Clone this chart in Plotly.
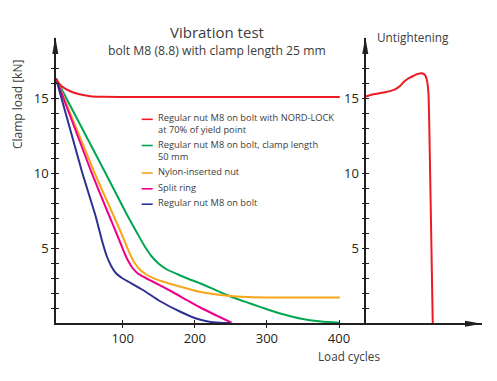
import plotly.graph_objects as go

# ---------------- data (load cycles, clamp load kN) ----------------
red_x = [7.5, 15, 25, 40, 55, 70, 100, 200, 300, 401]
red_y = [16.25, 15.8, 15.5, 15.25, 15.12, 15.08, 15.07, 15.07, 15.07, 15.07]

green_x = [7.5, 75, 105, 120, 130, 140, 150, 162, 176, 189, 207, 230, 253, 277, 300, 325, 346, 375, 400]
green_y = [16.3, 10.1, 7.3, 6.0, 5.15, 4.45, 3.95, 3.55, 3.25, 2.98, 2.65, 2.17, 1.7, 1.3, 0.92, 0.55, 0.3, 0.1, 0.02]

orange_x = [7.5, 61, 85, 97, 104, 110, 116, 123, 132, 143, 160, 193, 207, 230, 253, 280, 320, 401]
orange_y = [16.3, 10.0, 7.4, 6.1, 5.3, 4.6, 4.05, 3.6, 3.25, 2.98, 2.7, 2.25, 2.08, 1.9, 1.78, 1.72, 1.7, 1.7]

pink_x = [7.5, 57, 80, 92, 98, 103, 108, 114, 121, 130, 140, 166, 190, 207, 230, 251]
pink_y = [16.3, 10.0, 7.3, 5.9, 5.2, 4.6, 4.1, 3.65, 3.3, 3.05, 2.8, 2.15, 1.5, 1.05, 0.5, 0.02]

blue_x = [7.5, 44, 62, 68, 73, 78, 84, 91, 99, 108, 128, 152, 180, 203, 222, 240, 249]
blue_y = [16.3, 10.0, 7.2, 6.1, 5.2, 4.45, 3.8, 3.3, 3.0, 2.75, 2.2, 1.45, 0.75, 0.28, 0.07, 0.0, 0.0]

# untightening curve (drawn in the right-hand panel)
untight_x = [436.5, 447.6, 465, 477.7, 484.6, 489, 496, 503, 509, 514.7, 519, 521.6, 524, 525, 527, 530]
untight_y = [15.1, 15.25, 15.4, 15.58, 15.8, 16.03, 16.3, 16.47, 16.6, 16.65, 16.55, 16.25, 15.36, 13.6, 8.25, 0.0]

x_ticks = [100, 200, 300, 400]
y_tick_vals = list(range(1, 18))
y_tick_text = [str(v) if v in (5, 10, 15) else "" for v in y_tick_vals]

legend_labels = [
    ["Regular nut M8 on bolt with NORD-LOCK", "at 70% of yield point"],
    ["Regular nut M8 on bolt, clamp length", "50 mm"],
    ["Nylon-inserted nut"],
    ["Split ring"],
    ["Regular nut M8 on bolt"],
]

# ---------------- styling ----------------
OFF = 8                      # page body margin
W, H = 497 - OFF, 381 - OFF
L, R, T, B = 48, 15, 30, 58
PW, PH = W - L - R, H - T - B
X_RANGE = [7.49, 598.3]
Y_RANGE = [0, 19.0]
AX = "#231f20"
TXT = "#3c3c3b"
FONT = "Open Sans"
RED, GREEN, ORANGE, PINK, BLUE = "#ec1c24", "#00a651", "#f9a51a", "#ec008c", "#2e3192"
LW = 2.0

def pxx(p):
    return (p - OFF - L) / PW

def pxy(p):
    return (H - B - (p - OFF)) / PH

fig = go.Figure()
for xs, ys, c in [(green_x, green_y, GREEN), (orange_x, orange_y, ORANGE),
                  (pink_x, pink_y, PINK), (blue_x, blue_y, BLUE), (red_x, red_y, RED)]:
    fig.add_trace(go.Scatter(x=xs, y=ys, mode="lines", line=dict(color=c, width=LW, shape="spline", smoothing=0.5),
                             showlegend=False, hoverinfo="skip"))
fig.add_trace(go.Scatter(x=untight_x, y=untight_y, mode="lines", yaxis="y2",
                         line=dict(color=RED, width=LW, shape="spline", smoothing=0.5),
                         showlegend=False, hoverinfo="skip"))
# empty traces so the overlay tick axes get drawn
fig.add_trace(go.Scatter(x=[None], y=[None], yaxis="y3", showlegend=False, hoverinfo="skip"))
fig.add_trace(go.Scatter(x=[None], y=[None], yaxis="y4", showlegend=False, hoverinfo="skip"))
fig.add_trace(go.Scatter(x=[None], y=[None], xaxis="x2", showlegend=False, hoverinfo="skip"))

tickfont = dict(family=FONT, size=13, color=AX)
common_y = dict(range=Y_RANGE, showgrid=False, zeroline=False, tickvals=y_tick_vals, ticklen=3,
                tickwidth=1.2, tickcolor=AX, fixedrange=True)
RPOS = pxx(365.3)
fig.update_layout(
    width=W, height=H, margin=dict(l=L, r=R, t=T, b=B),
    paper_bgcolor="white", plot_bgcolor="white", showlegend=False,
    xaxis=dict(range=X_RANGE, showgrid=False, zeroline=False, showline=True, linecolor=AX, linewidth=1.5,
               tickvals=x_ticks, ticks="outside", ticklen=3, tickwidth=1.2, tickcolor=AX, tickfont=tickfont),
    xaxis2=dict(range=X_RANGE, overlaying="x", anchor="y", showgrid=False, zeroline=False, showline=False,
                tickvals=x_ticks, ticks="inside", ticklen=3, tickwidth=1.2, tickcolor=AX, showticklabels=False),
    yaxis=dict(**common_y, showline=True, linecolor=AX, linewidth=1.5, ticks="outside",
               ticktext=y_tick_text, tickfont=tickfont),
    yaxis3=dict(**common_y, overlaying="y", anchor="x", side="left", ticks="inside", showticklabels=False),
    yaxis2=dict(**common_y, overlaying="y", anchor="free", position=RPOS, side="left",
                showline=True, linecolor=AX, linewidth=1.5, ticks="outside", ticktext=y_tick_text,
                tickfont=tickfont),
    yaxis4=dict(**common_y, overlaying="y", anchor="free", position=RPOS, side="left",
                ticks="inside", showticklabels=False),
)

# axis arrowheads (paper coordinates)
def tri(pts):
    return "M " + " L ".join(f"{pxx(a):.5f},{pxy(b):.5f}" for a, b in pts) + " Z"

for path in [tri([(55.3, 37), (52.3, 54), (58.3, 54)]),
             tri([(365.3, 37), (362.3, 54), (368.3, 54)]),
             tri([(482, 323.7), (465, 320.7), (465, 326.7)])]:
    fig.add_shape(type="path", path=path, xref="paper", yref="paper", fillcolor=AX, line=dict(width=0))

def ann(text, x, y, size, color=TXT, xanchor="center", textangle=0):
    fig.add_annotation(text=text, x=pxx(x), y=pxy(y), xref="paper", yref="paper", showarrow=False,
                       xanchor=xanchor, yanchor="middle", textangle=textangle, borderpad=0,
                       align="left" if xanchor == "left" else "center",
                       font=dict(family=FONT, size=size, color=color))

ann("Vibration test", 217, 32, 15)
ann("bolt M8 (8.8) with clamp length 25 mm", 217, 50.5, 12.2)
ann("Untightening", 412.5, 37, 11.8)
ann("Clamp load [kN]", 18, 105, 12, textangle=-90)
ann("Load cycles", 349, 355.5, 11.7)

# legend
leg_colors = [RED, GREEN, ORANGE, PINK, BLUE]
leg_y = [117.8, 144, 171.5, 187.3, 202.7]
for lines, c, y0 in zip(legend_labels, leg_colors, leg_y):
    fig.add_shape(type="line", xref="paper", yref="paper", x0=pxx(141.7), x1=pxx(152.7),
                  y0=pxy(y0 + 1.5), y1=pxy(y0 + 1.5), line=dict(color=c, width=1.6))
    ann("<br>".join(lines), 156.7, y0 + 6 * (len(lines) - 1), 9.3, xanchor="left")

fig.write_html("out.html")
